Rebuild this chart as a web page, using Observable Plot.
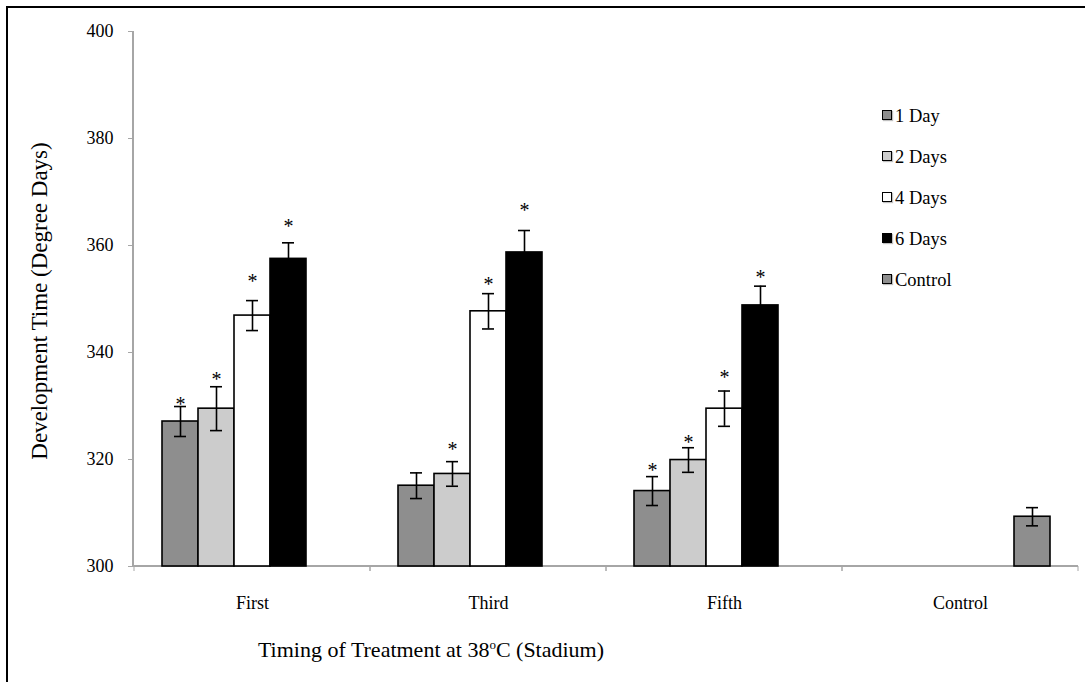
<!DOCTYPE html>
<html>
<head>
<meta charset="utf-8">
<script src="https://cdn.jsdelivr.net/npm/d3@7"></script>
<script src="https://cdn.jsdelivr.net/npm/@observablehq/plot@0.6"></script>
<style>
  html, body { margin: 0; padding: 0; background: #fff; }
  body { width: 1085px; height: 682px; overflow: hidden; position: relative; font-family: "Liberation Serif", "Times New Roman", serif; }
  #border { position: absolute; left: 6px; top: 6px; width: 1100px; height: 700px; border: 2px solid #000; box-sizing: border-box; pointer-events: none; }
  #chart { position: absolute; left: 0; top: 0; }
  .title { position: absolute; color: #000; white-space: nowrap; }
  #ytitle { font-size: 23px; left: 40px; top: 301px; transform: translate(-50%, -50%) rotate(-90deg); }
  #xtitle { font-size: 22px; left: 431px; top: 650px; transform: translate(-50%, -50%); }
  #xtitle sup { font-size: 13px; vertical-align: 8px; line-height: 0; }
  #legend { position: absolute; left: 882px; top: 96px; }
  .item { display: flex; align-items: center; height: 41px; font-size: 18.5px; color: #000; }
  .swatch { width: 8px; height: 8px; border: 1px solid #000; margin-right: 3px; margin-top: -4px; box-shadow: 1px 1px 1px rgba(0,0,0,0.25); }
</style>
</head>
<body>
<div id="chart"></div>
<div id="border"></div>
<div id="ytitle" class="title">Development Time (Degree Days)</div>
<div id="xtitle" class="title">Timing of Treatment at 38<sup>o</sup>C (Stadium)</div>
<div id="legend"></div>
<script>
// ---- data ----
const groups = ["First", "Third", "Fifth", "Control"];
const series = ["1 Day", "2 Days", "4 Days", "6 Days", "Control"];
const seriesColors = ["#8e8e8e", "#cccccc", "#ffffff", "#000000", "#8e8e8e"];
const yTicks = [300, 320, 340, 360, 380, 400];

const firstMeans = [327.1, 329.5, 346.9, 357.5];
const firstErrors = [2.8, 4.1, 2.8, 3.0];
const firstStars = [331.0, 335.7, 354.0, 364.3];

const thirdMeans = [315.1, 317.3, 347.7, 358.7];
const thirdErrors = [2.4, 2.3, 3.3, 4.1];
const thirdStars = [null, 322.6, 353.5, 367.2];

const fifthMeans = [314.1, 319.9, 329.5, 348.8];
const fifthErrors = [2.7, 2.3, 3.3, 3.6];
const fifthStars = [318.7, 323.9, 336.0, 354.7];

const controlMeans = [309.3];
const controlErrors = [1.7];
const controlStars = [null];

// ---- table ----
const rows = [];
function addGroup(group, names, means, errs, stars) {
  names.forEach((s, i) => rows.push({group, series: s, mean: means[i], err: errs[i], star: stars[i]}));
}
addGroup("First", series.slice(0, 4), firstMeans, firstErrors, firstStars);
addGroup("Third", series.slice(0, 4), thirdMeans, thirdErrors, thirdStars);
addGroup("Fifth", series.slice(0, 4), fifthMeans, fifthErrors, fifthStars);
addGroup("Control", ["Control"], controlMeans, controlErrors, controlStars);
const starred = rows.filter(d => d.star != null);

const axisGray = "#a6a6a6";

const chart = Plot.plot({
  width: 1085,
  height: 682,
  marginLeft: 133,
  marginRight: 6,
  marginTop: 31,
  marginBottom: 116,
  style: {fontFamily: "'Liberation Serif', 'Times New Roman', serif", fontSize: "18px", color: "#000", background: "transparent"},
  fx: {domain: groups, padding: 0, axis: "bottom", tickSize: 0, tickPadding: 30, label: null},
  x: {domain: series, paddingInner: 0, paddingOuter: 0.742, axis: null},
  y: {domain: [300, 400], ticks: yTicks, tickSize: 6, tickPadding: 15, label: null, tickFormat: d => String(d)},
  color: {domain: series, range: seriesColors},
  marks: [
    Plot.ruleY([300], {
      render(index, scales, values, dims) {
        const g = d3.create("svg:g");
        const y0 = dims.height - dims.marginBottom;
        g.append("line")
          .attr("x1", dims.marginLeft).attr("x2", dims.width - dims.marginRight)
          .attr("y1", y0).attr("y2", y0)
          .attr("stroke", axisGray).attr("stroke-width", 2);
        for (const x of [dims.marginLeft, dims.width - dims.marginRight]) {
          g.append("line")
            .attr("x1", x).attr("x2", x).attr("y1", y0).attr("y2", y0 + 5)
            .attr("stroke", axisGray).attr("stroke-width", 1);
        }
        return g.node();
      }
    }),
    Plot.barY(rows, {fx: "group", x: "series", y1: 300, y2: "mean", fill: "series", stroke: "#000", strokeWidth: 1.6}),
    Plot.ruleX(rows, {fx: "group", x: "series", y1: d => d.mean - d.err, y2: d => d.mean + d.err, stroke: "#000", strokeWidth: 1.6}),
    Plot.tickY(rows, {fx: "group", x: "series", y: d => d.mean + d.err, stroke: "#000", strokeWidth: 1.6, insetLeft: 12, insetRight: 12}),
    Plot.tickY(rows, {fx: "group", x: "series", y: d => d.mean - d.err, stroke: "#000", strokeWidth: 1.6, insetLeft: 12, insetRight: 12}),
    Plot.text(starred, {fx: "group", x: "series", y: "star", text: () => "*", fontSize: 20, dy: 4, fill: "#000"})
  ]
});
document.getElementById("chart").appendChild(chart);

// style y axis: gray ticks + axis line, black labels
const svg = d3.select(chart);
svg.selectAll("[aria-label='y-axis tick'] path, [aria-label='y-axis tick'] line").attr("stroke", axisGray);
svg.append("line")
  .attr("x1", 133).attr("x2", 133).attr("y1", 31).attr("y2", 566)
  .attr("stroke", axisGray).attr("stroke-width", 2);

// legend
const legend = d3.select("#legend");
series.forEach((s, i) => {
  const it = legend.append("div").attr("class", "item");
  it.append("div").attr("class", "swatch").style("background", seriesColors[i]);
  it.append("span").text(s);
});
</script>
</body>
</html>
